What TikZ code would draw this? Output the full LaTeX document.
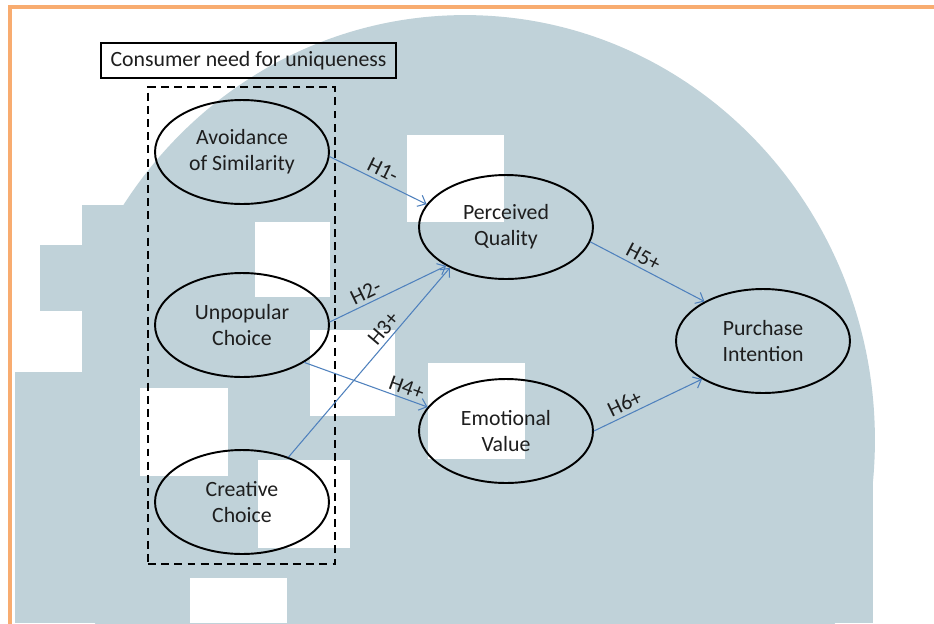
\documentclass[tikz,border=0pt]{standalone}
\usepackage{fontspec}
\setmainfont{Carlito}
\usetikzlibrary{shapes.geometric,arrows.meta,positioning}
\definecolor{wmblue}{RGB}{192,210,217}
\definecolor{frameorange}{RGB}{248,172,112}
\definecolor{pathblue}{RGB}{79,129,189}
\definecolor{txtgrey}{RGB}{30,30,30}

\begin{document}
\begin{tikzpicture}[
		x=0.02cm, y=-0.02cm,
		construct/.style={ellipse, draw=black, line width=1.1pt,
				minimum width=3.48cm, minimum height=2.08cm, inner sep=0pt,
				align=center, text=txtgrey, font=\fontsize{12.4}{14.6}\selectfont},
		hyp/.style={draw=pathblue, line width=0.6pt,
				-{Straight Barb[length=4pt,width=7pt]}},
		hlabel/.style={sloped, above, inner sep=2pt, text=txtgrey,
				font=\fontsize{12.4}{14}\selectfont}
	]
	\useasboundingbox (0,0) rectangle (934,623);
	% background watermark
	\begin{scope}
		\clip (0,0) rectangle (934,623);
		\fill[white] (0,0) rectangle (934,623);
		\fill[wmblue] (465,440) ellipse [x radius=8.2cm, y radius=8.5cm];
		\fill[wmblue] (600,440) rectangle (873,623);
		\fill[wmblue] (15,372) rectangle (100,623);
		\fill[wmblue] (40,245) rectangle (180,311);
		\fill[wmblue] (82,205) rectangle (180,250);
		\fill[white] (13,311) rectangle (82,372);
		\fill[white] (407,135) rectangle (504,222);
		\fill[white] (255,222) rectangle (330,297);
		\fill[white] (310,330) rectangle (395,416);
		\fill[white] (140,388) rectangle (228,476);
		\fill[white] (258,460) rectangle (350,548);
		\fill[white] (190,578) rectangle (287,623);
		\fill[white] (428,363) rectangle (525,459);
	\end{scope}
	\draw[frameorange, line width=2.3pt] (10,630) -- (10,7) -- (940,7);

	% constructs
	\node[draw, line width=1pt, minimum width=5.9cm, minimum height=0.7cm,
		inner sep=0pt, text=txtgrey, font=\fontsize{12.4}{14}\selectfont]
		(cnfu) at (248.5,60.5) {Consumer need for uniqueness};
	\node[draw, line width=1.2pt, dash pattern=on 4.5pt off 3pt,
		minimum width=3.74cm, minimum height=9.54cm] (cnfubox) at (241.5,325.5) {};

	\node[construct] (avoid) at (242,152) {Avoidance\\of Similarity};
	\node[construct] (unpop) at (242,325) {Unpopular\\Choice};
	\node[construct] (creat) at (242,502) {Creative\\Choice};
	\node[construct] (qual) at (506,227) {Perceived\\Quality};
	\node[construct] (emot) at (506,431) {Emotional\\Value};
	\node[construct] (purch) at (763,341) {Purchase\\Intention};

	% hypotheses
	\draw[hyp] (avoid.-3) -- node[hlabel, pos=0.5] {H1-} (qual.164);
	\draw[hyp] (unpop.2) -- node[hlabel, pos=0.35] {H2-} (qual.213);
	\draw[hyp] (creat.44) -- node[hlabel, pos=0.64] {H3+} (qual.216);
	\draw[hyp] (unpop.-31) -- node[hlabel, pos=0.8] {H4+} (emot.163);
	\draw[hyp] (qual.-10) -- node[hlabel, pos=0.42] {H5+} (purch.146);
	\draw[hyp] (emot.0) -- node[hlabel, pos=0.33] {H6+} (purch.212);
\end{tikzpicture}
\end{document}
